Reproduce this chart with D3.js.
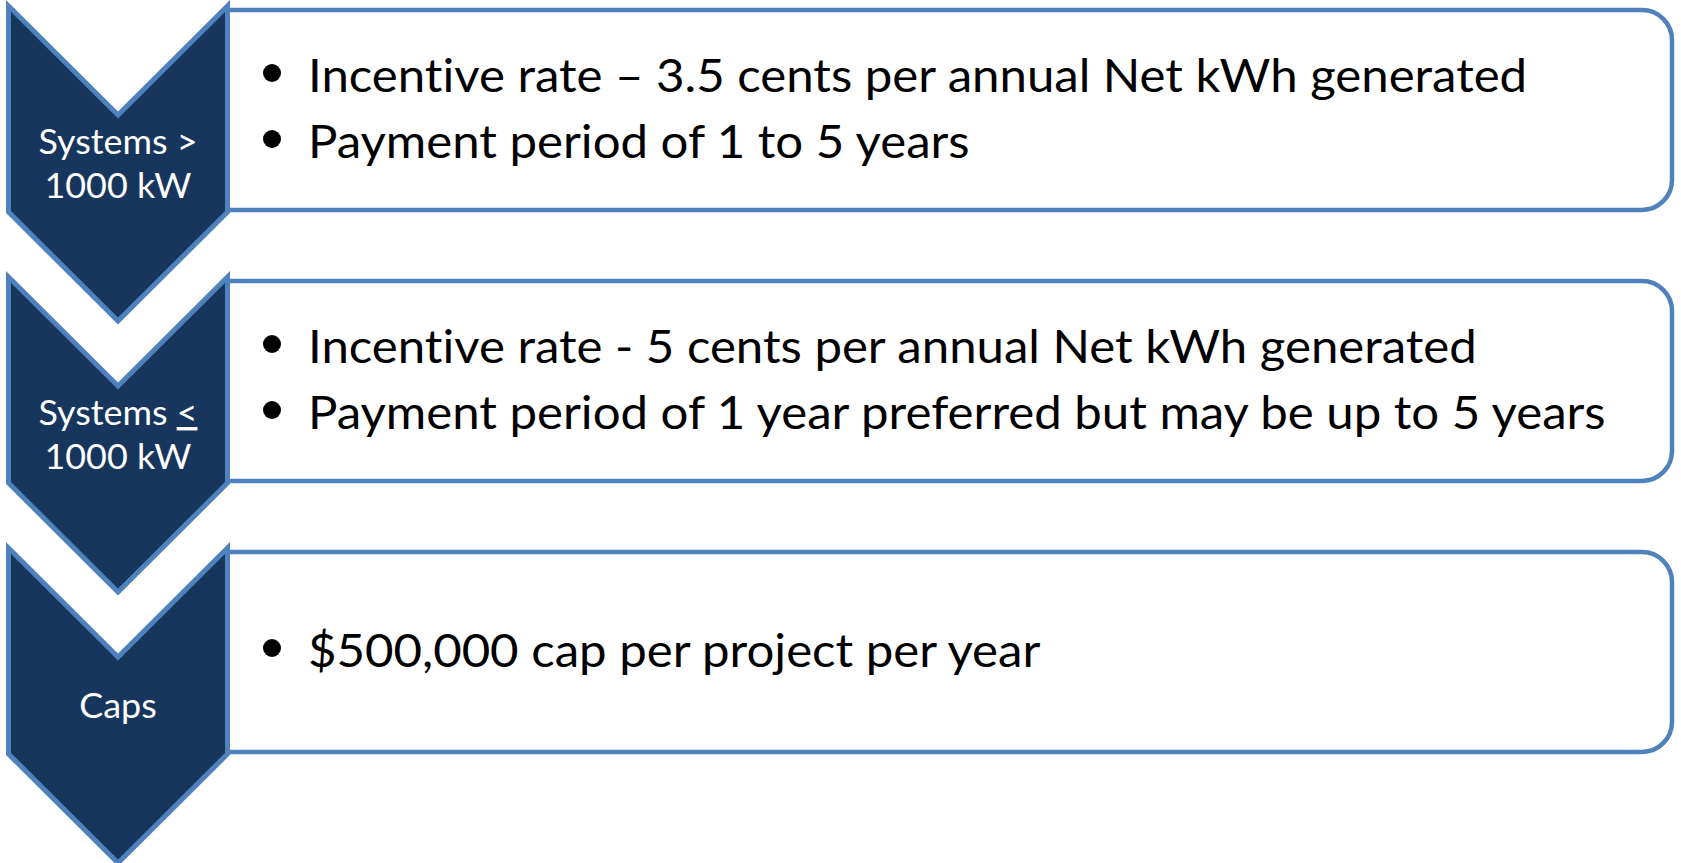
<!DOCTYPE html>
<html>
<head>
<meta charset="utf-8">
<script src="https://cdn.jsdelivr.net/npm/d3@7"></script>
<style>
  html, body { margin: 0; padding: 0; background: #ffffff; }
  svg { display: block; }
  text { font-variant-ligatures: none; font-feature-settings: "liga" 0, "clig" 0; }
</style>
</head>
<body>
<div id="chart"></div>
<script>
// ---- data ----
const categories = ["Systems > 1000 kW", "Systems \u2264 1000 kW", "Caps"];
const labelLines = [["Systems >", "1000 kW"], ["Systems <", "1000 kW"], ["Caps"]];
const labelUnderline = ["", "<", ""];
const bulletLines = [
  ["Incentive rate \u2013 3.5 cents per annual Net kWh generated",
   "Payment period of 1 to 5 years"],
  ["Incentive rate - 5 cents per annual Net kWh generated",
   "Payment period of 1 year preferred but may be up to 5 years"],
  ["$500,000 cap per project per year"]
];

// ---- layout ----
const W = 1681, H = 863;
const navy = "#17365D", blue = "#4F81BD";
const fontFam = "Lato, 'Open Sans', sans-serif";
const bodySize = 46, labelSize = 34.5;
const bodyLineGap = 66, labelLineGap = 44;

const svg = d3.select("#chart").append("svg")
  .attr("width", W).attr("height", H)
  .attr("viewBox", `0 0 ${W} ${H}`);

const y = d3.scaleBand()
  .domain(categories)
  .range([10, 752])
  .paddingInner(71 / 271)
  .paddingOuter(0);

const x = d3.scaleLinear().domain([0, 1]).range([8.5, 227.5]); // chevron left/right
const rectRight = 1672, radius = 30;
const depth = 109;

const rows = categories.map((c, i) => ({
  key: c, i,
  top: y(c), bottom: y(c) + y.bandwidth(),
  labels: labelLines[i], underline: labelUnderline[i], bullets: bulletLines[i]
}));

// rounded boxes (right side rounded)
svg.append("g").selectAll("path").data(rows).join("path")
  .attr("d", d => {
    const l = x(1), r = rectRight, t = d.top, b = d.bottom;
    return `M${l},${t} H${r - radius} A${radius},${radius} 0 0 1 ${r},${t + radius} ` +
           `V${b - radius} A${radius},${radius} 0 0 1 ${r - radius},${b} H${l} Z`;
  })
  .attr("fill", "#ffffff")
  .attr("stroke", blue)
  .attr("stroke-width", 4.5);

// chevrons
svg.append("g").selectAll("path").data(rows).join("path")
  .attr("d", d => {
    const x0 = x(0), x1 = x(1), cx = x(0.5);
    const t = d.top - 4, s = d.bottom + 2;
    return `M${x0},${t} L${cx},${t + depth} L${x1},${t} L${x1},${s} L${cx},${s + depth} L${x0},${s} Z`;
  })
  .attr("fill", navy)
  .attr("stroke", blue)
  .attr("stroke-width", 5)
  .attr("stroke-linejoin", "miter");

// measure helper
function natWidth(str, size) {
  const t = svg.append("text").attr("font-family", fontFam).attr("font-size", size).text(str);
  const w = t.node().getComputedTextLength();
  t.remove();
  return w;
}
const bodyFactor = (1215 / natWidth(bulletLines[0][0], bodySize) +
                    1302 / natWidth(bulletLines[1][1], bodySize)) / 2;
const labelFactor = 159 / natWidth(labelLines[0][0], labelSize);

// chevron labels
const lg = svg.append("g");
rows.forEach(d => {
  const cx = x(0.5);
  const mid = (d.top - 4 + depth + d.bottom + 2) / 2;
  const n = d.labels.length;
  d.labels.forEach((line, j) => {
    const by = mid + 12.5 + (j - (n - 1) / 2) * labelLineGap;
    const w = natWidth(line, labelSize) * labelFactor;
    const t = lg.append("text")
      .attr("x", cx - w / 2).attr("y", by)
      .attr("font-family", fontFam).attr("font-size", labelSize)
      .attr("fill", "#ffffff")
      .attr("textLength", w).attr("lengthAdjust", "spacingAndGlyphs");
    if (d.underline && line.endsWith(d.underline)) {
      t.append("tspan").text(line.slice(0, line.length - d.underline.length));
      t.append("tspan").attr("text-decoration", "underline").style("text-decoration", "underline").text(d.underline);
    } else {
      t.text(line);
    }
  });
});

// bullet text
const bg = svg.append("g");
rows.forEach(d => {
  const c = (d.top + d.bottom) / 2;
  const n = d.bullets.length;
  d.bullets.forEach((line, j) => {
    const by = c + 15 + (j - (n - 1) / 2) * bodyLineGap;
    bg.append("circle").attr("cx", 272).attr("cy", by - 19).attr("r", 9).attr("fill", "#000");
    const w = natWidth(line, bodySize) * bodyFactor;
    bg.append("text")
      .attr("x", 308).attr("y", by)
      .attr("font-family", fontFam).attr("font-size", bodySize)
      .attr("fill", "#000")
      .attr("textLength", w).attr("lengthAdjust", "spacingAndGlyphs")
      .text(line);
  });
});
</script>
</body>
</html>
